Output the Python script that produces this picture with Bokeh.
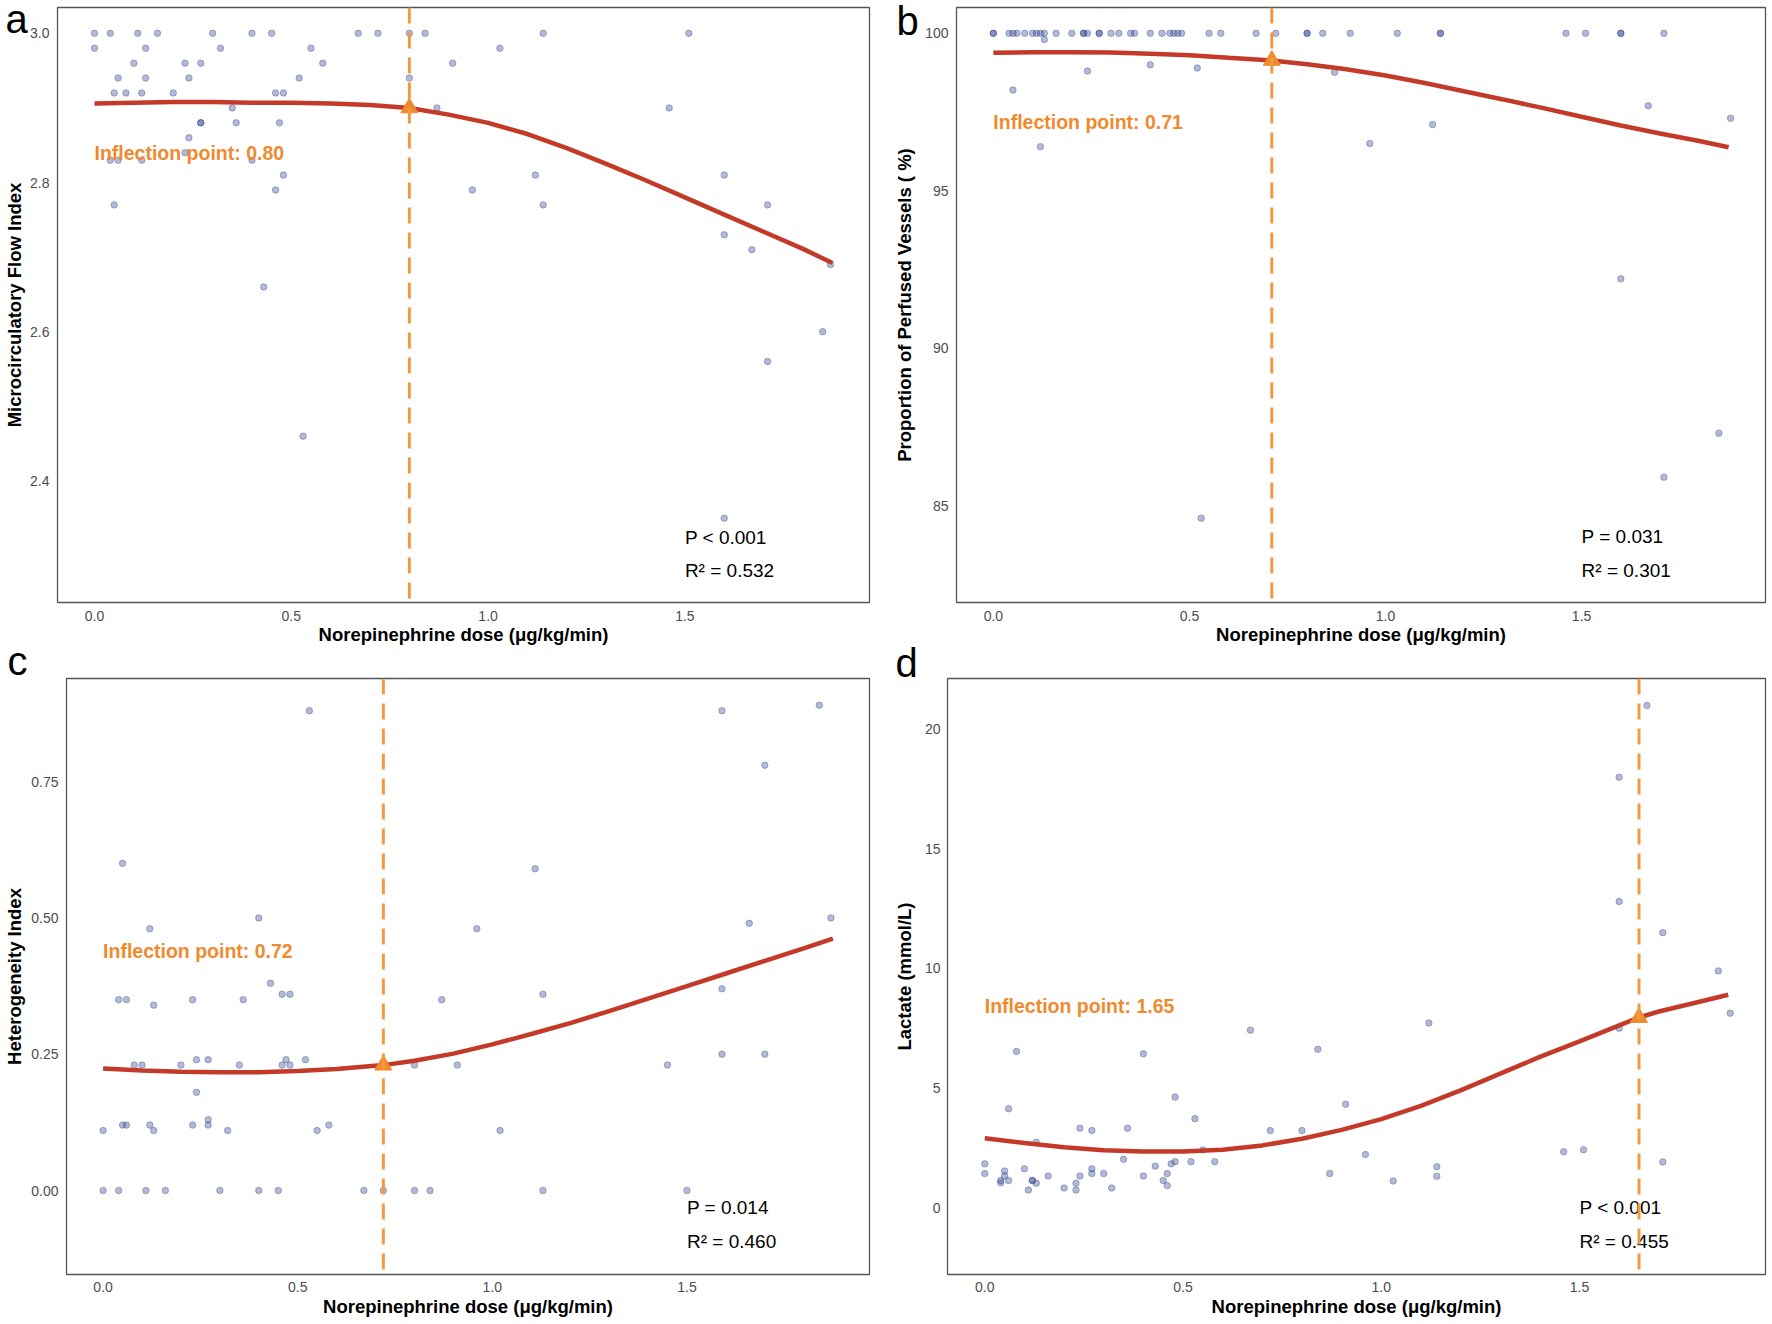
from bokeh.plotting import figure
from bokeh.layouts import column, row
from bokeh.models import FixedTicker, PrintfTickFormatter, Span, GridBox
from bokeh.core.properties import value
from bokeh.embed import file_html
from bokeh.resources import INLINE

FONT = "Liberation Sans"
X_TITLE = "Norepinephrine dose (μg/kg/min)"
X_TICKS = [0.0, 0.5, 1.0, 1.5]
PANEL_LETTERS = ["a", "b", "c", "d"]

# ---------------- Panel a : Microcirculatory Flow Index ----------------
a_x = [0.0, 0.04, 0.11, 0.16, 0.30, 0.40, 0.45, 0.67, 0.72, 0.80, 0.84, 1.14, 1.51,
       0.0, 0.13, 0.32, 0.55, 1.03,
       0.10, 0.23, 0.27, 0.58, 0.91,
       0.06, 0.13, 0.24, 0.52, 0.80,
       0.05, 0.08, 0.12, 0.20, 0.46, 0.48,
       0.35, 0.87, 1.46,
       0.27, 0.27, 0.36, 0.47,
       0.24, 0.23,
       0.04, 0.06, 0.12, 0.40,
       0.48, 1.12, 1.60,
       0.46, 0.96,
       0.05, 1.14, 1.71,
       1.60, 1.67, 1.87, 0.43, 1.85, 1.71, 0.53, 1.60]
a_y = [3.0] * 13 + [2.98] * 5 + [2.96] * 5 + [2.94] * 5 + [2.92] * 6 + [2.90] * 3 + \
      [2.88] * 4 + [2.86, 2.84] + [2.83] * 4 + [2.81] * 3 + [2.79] * 2 + [2.77] * 3 + \
      [2.73, 2.71, 2.69, 2.66, 2.60, 2.56, 2.46, 2.35]
a_curve_x = [0.0, 0.1, 0.2, 0.3, 0.4, 0.5, 0.6, 0.7, 0.8, 0.9, 1.0, 1.1, 1.2, 1.3, 1.4, 1.5, 1.6, 1.7, 1.8, 1.875]
a_curve_y = [2.906, 2.907, 2.908, 2.908, 2.907, 2.907, 2.906, 2.904, 2.900, 2.891, 2.880, 2.865,
             2.846, 2.825, 2.803, 2.780, 2.757, 2.734, 2.711, 2.692]
a_ip = 0.80
a_ip_y = 2.900
a_stats = ["P < 0.001", "R² = 0.532"]

# ---------------- Panel b : Proportion of Perfused Vessels ----------------
b_x = [0.0, 0.0, 0.04, 0.05, 0.06, 0.08, 0.10, 0.11, 0.12, 0.13, 0.16, 0.20, 0.23, 0.23, 0.24,
       0.27, 0.27, 0.30, 0.32, 0.35, 0.36, 0.40, 0.43, 0.45, 0.46, 0.47, 0.48, 0.55, 0.58,
       0.67, 0.72, 0.80, 0.80, 0.84, 0.91, 1.03, 1.14, 1.14, 1.46, 1.51, 1.60, 1.60, 1.71,
       0.13, 0.24, 0.40, 0.52, 0.05, 0.87, 0.12, 0.96, 1.12, 1.67, 1.88, 1.60, 1.85, 1.71, 0.53]
b_y = [100.0] * 43 + [99.8, 98.8, 99.0, 98.9, 98.2, 98.76, 96.4, 96.5, 97.1, 97.7, 97.3,
                      92.2, 87.3, 85.9, 84.6]
b_curve_x = [0.0, 0.1, 0.2, 0.3, 0.4, 0.5, 0.6, 0.71, 0.8, 0.9, 1.0, 1.1, 1.2, 1.3, 1.4, 1.5, 1.6, 1.7, 1.8, 1.875]
b_curve_y = [99.38, 99.40, 99.40, 99.39, 99.35, 99.30, 99.22, 99.14, 99.02, 98.86, 98.66, 98.42,
             98.16, 97.90, 97.63, 97.35, 97.07, 96.82, 96.58, 96.38]
b_ip = 0.71
b_ip_y = 99.14
b_stats = ["P = 0.031", "R² = 0.301"]

# ---------------- Panel c : Heterogeneity Index ----------------
c_x = [0.53, 1.59, 1.84, 1.70, 0.05, 1.11, 0.40, 1.87, 1.66, 0.12, 0.96, 0.43, 1.59,
       0.46, 0.48, 1.13, 0.04, 0.06, 0.23, 0.36, 0.87, 0.13, 1.59, 1.70,
       0.24, 0.27, 0.47, 0.52,
       0.08, 0.10, 0.20, 0.35, 0.46, 0.48, 0.80, 0.91, 1.45,
       0.24, 0.27,
       0.05, 0.06, 0.12, 0.23, 0.27, 0.58,
       0.0, 0.13, 0.32, 0.55, 1.02,
       0.0, 0.04, 0.11, 0.16, 0.30, 0.40, 0.45, 0.67, 0.72, 0.80, 0.84, 1.13, 1.50]
c_y = [0.88, 0.88, 0.89, 0.78, 0.60, 0.59, 0.50, 0.50, 0.49, 0.48, 0.48, 0.38, 0.37,
       0.36, 0.36, 0.36, 0.35, 0.35, 0.35, 0.35, 0.35, 0.34, 0.25, 0.25] + \
      [0.24] * 4 + [0.23] * 9 + [0.18, 0.13] + [0.12] * 6 + [0.11] * 5 + [0.0] * 13
c_curve_x = [0.0, 0.1, 0.2, 0.3, 0.4, 0.5, 0.6, 0.72, 0.8, 0.9, 1.0, 1.1, 1.2, 1.3, 1.4, 1.5, 1.6, 1.7, 1.8, 1.875]
c_curve_y = [0.224, 0.220, 0.218, 0.217, 0.217, 0.219, 0.223, 0.230, 0.238, 0.251, 0.268, 0.287,
             0.307, 0.329, 0.352, 0.375, 0.398, 0.421, 0.444, 0.462]
c_ip = 0.72
c_ip_y = 0.230
c_stats = ["P = 0.014", "R² = 0.460"]

# ---------------- Panel d : Lactate ----------------
d_x = [0.67, 0.08, 0.40, 0.84, 0.06, 0.48, 0.53, 0.91, 0.24, 0.27, 0.36, 0.72, 0.80, 0.13,
       0.96, 0.55, 0.0, 0.0, 0.05, 0.05, 0.04, 0.04, 0.06, 0.10, 0.11, 0.12, 0.12, 0.13, 0.16,
       0.20, 0.23, 0.23, 0.24, 0.27, 0.27, 0.30, 0.32, 0.35, 0.40, 0.43, 0.45, 0.46, 0.46,
       0.47, 0.48, 0.52, 0.58, 0.87, 1.03, 1.12, 1.14, 1.14, 1.46, 1.51, 1.60, 1.60, 1.67,
       1.71, 1.71, 1.85, 1.88, 1.60]
d_y = [7.42, 6.53, 6.43, 6.62, 4.13, 4.62, 3.72, 4.32, 3.32, 3.22, 3.32, 3.22, 3.22, 2.73,
       2.22, 2.41, 1.83, 1.42, 1.53, 1.32, 1.13, 1.04, 1.13, 1.62, 0.73, 1.13, 1.13, 1.02, 1.32,
       0.82, 1.02, 0.73, 1.32, 1.62, 1.42, 1.42, 0.82, 2.02, 1.32, 1.73, 1.13, 1.42, 0.92,
       1.83, 1.92, 1.92, 1.92, 1.42, 1.11, 7.72, 1.71, 1.31, 2.33, 2.42, 18.0, 12.8, 21.0,
       11.5, 1.91, 9.9, 8.13, 7.5]
d_curve_x = [0.0, 0.1, 0.2, 0.3, 0.4, 0.5, 0.6, 0.7, 0.8, 0.9, 1.0, 1.1, 1.2, 1.3, 1.4, 1.5, 1.6, 1.65, 1.7, 1.8, 1.875]
d_curve_y = [2.90, 2.70, 2.52, 2.40, 2.34, 2.34, 2.42, 2.60, 2.88, 3.25, 3.70, 4.25, 4.90, 5.60,
             6.30, 6.95, 7.62, 7.95, 8.20, 8.60, 8.90]
d_ip = 1.65
d_ip_y = 7.95
d_stats = ["P < 0.001", "R² = 0.455"]

ORANGE_TXT = "#F08A2E"
ORANGE_LINE = "#F39A40"
RED = "#C43A28"
PT = "#2B3F8C"


def panel(xs, ys, cx, cy, ip, ip_y, stats, y_title, y_ticks, y_fmt, y_rng,
          ip_text_y, stat_y, borders, y_stand, y_lab_stand, x_stand, x_lab_stand):
    bl, br, bt, bb = borders
    p = figure(width=886, height=662, x_range=(-0.094, 1.969), y_range=y_rng,
               output_backend="svg", toolbar_location=None,
               min_border_left=bl, min_border_right=br, min_border_top=bt, min_border_bottom=bb,
               background_fill_color="white", border_fill_color="white")
    p.grid.visible = False
    p.outline_line_color = "#555555"
    p.outline_line_width = 1.3

    for ax in (p.xaxis[0], p.yaxis[0]):
        ax.axis_line_color = None
        ax.major_tick_line_color = None
        ax.minor_tick_line_color = None
        ax.major_tick_out = 0
        ax.major_tick_in = 0
        ax.major_label_text_font = FONT
        ax.major_label_text_font_size = "14px"
        ax.major_label_text_color = "#4D4D4D"
        ax.axis_label_text_font = FONT
        ax.axis_label_text_font_size = "18.5px"
        ax.axis_label_text_font_style = "bold"
        ax.axis_label_text_color = "black"

    p.xaxis.ticker = FixedTicker(ticks=X_TICKS)
    p.xaxis.formatter = PrintfTickFormatter(format="%.1f")
    p.xaxis.axis_label = X_TITLE
    p.xaxis.major_label_standoff = x_stand
    p.xaxis.axis_label_standoff = x_lab_stand

    p.yaxis.ticker = FixedTicker(ticks=y_ticks)
    p.yaxis.formatter = PrintfTickFormatter(format=y_fmt)
    p.yaxis.axis_label = y_title
    p.yaxis.major_label_standoff = y_stand
    p.yaxis.axis_label_standoff = y_lab_stand

    p.scatter(xs, ys, size=6.5, fill_color=PT, fill_alpha=0.36, line_color=PT, line_alpha=0.36,
              line_width=1)
    p.line(cx, cy, line_color=RED, line_width=4.5)
    p.add_layout(Span(location=ip, dimension="height", line_color=ORANGE_LINE, line_width=3,
                      line_dash="16 9"))
    p.scatter([ip], [ip_y], marker="triangle", size=17, fill_color=ORANGE_TXT,
              line_color=ORANGE_TXT)

    p.text([0.0], [ip_text_y], text=["Inflection point: %.2f" % ip], text_font=value(FONT),
           text_font_size="19.5px", text_font_style="bold", text_color=ORANGE_TXT,
           text_align="left", text_baseline="middle")
    p.text([1.5, 1.5], stat_y, text=stats, text_font=value(FONT), text_font_size="19px",
           text_color="black", text_align="left", text_baseline="middle")
    return p


pa = panel(a_x, a_y, a_curve_x, a_curve_y, a_ip, a_ip_y, a_stats,
           "Microcirculatory Flow Index", [2.4, 2.6, 2.8, 3.0], "%.1f", (2.237, 3.0346),
           2.84, [2.324, 2.280], (57, 17, 7, 60), 8, 2, 8, 0)
pb = panel(b_x, b_y, b_curve_x, b_curve_y, b_ip, b_ip_y, b_stats,
           "Proportion of Perfused Vessels ( %)", [85, 90, 95, 100], "%d", (81.92, 100.82),
           97.18, [84.02, 82.95], (70, 7, 7, 60), 8, 7, 8, 0)
pc = panel(c_x, c_y, c_curve_x, c_curve_y, c_ip, c_ip_y, c_stats,
           "Heterogeneity Index", [0.0, 0.25, 0.5, 0.75], "%.2f", (-0.154, 0.939),
           0.44, [-0.031, -0.0935], (66, 17, 16, 50), 8, 3, 7, 1)
pd_ = panel(d_x, d_y, d_curve_x, d_curve_y, d_ip, d_ip_y, d_stats,
            "Lactate (mmol/L)", [0, 5, 10, 15, 20], "%d", (-2.8, 22.13),
            8.45, [0.0, -1.42], (61, 7, 16, 50), 7, 7, 7, 1)

panels = column(row(pa, pb), row(pc, pd_))

# transparent overlay carrying the panel letters (page pixel coordinates)
ov = figure(width=1772, height=1324, x_range=(0, 1772), y_range=(1324, 0),
            x_axis_type=None, y_axis_type=None, output_backend="svg", toolbar_location=None,
            min_border_left=0, min_border_right=0, min_border_top=0, min_border_bottom=0,
            outline_line_color=None, background_fill_alpha=0, border_fill_alpha=0)
ov.text([5, 896, 7, 895], [18, 20, 660, 662], text=PANEL_LETTERS, text_font=value(FONT),
        text_font_size="40px", text_color="black", text_align="left",
        text_baseline="alphabetic")

layout = GridBox(children=[(panels, 0, 0), (ov, 0, 0)])
open("out.html", "w").write(file_html(layout, INLINE))
